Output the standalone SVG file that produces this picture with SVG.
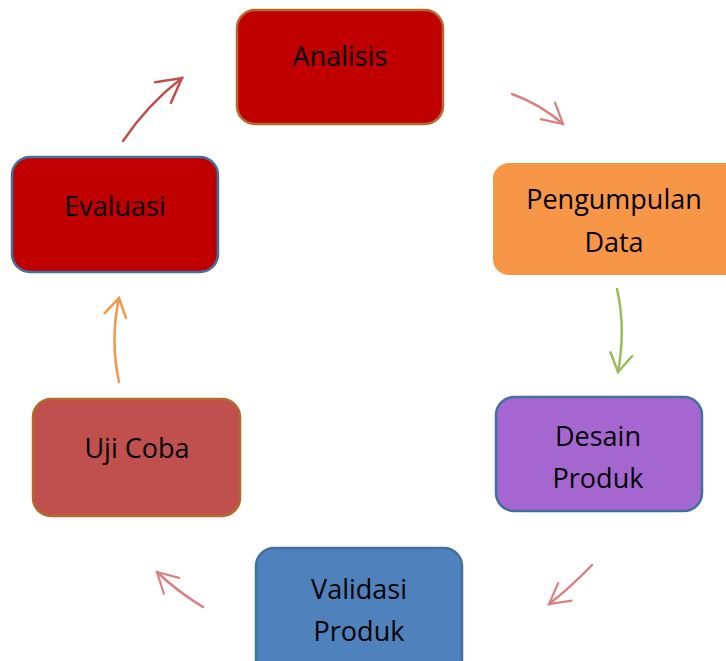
<svg xmlns="http://www.w3.org/2000/svg" width="726" height="661" viewBox="0 0 726 661">
<defs>
<style>
.box{stroke-width:2.5}
.lbl{font-family:"Open Sans","Noto Sans","Liberation Sans",sans-serif;font-size:27px;fill:#000;text-anchor:middle}
.arr{fill:none;stroke-width:2.5;stroke-linecap:round;stroke-linejoin:round}
</style>
<marker id="mRed" markerUnits="userSpaceOnUse" markerWidth="40" markerHeight="40" refX="0" refY="0" viewBox="-30 -20 40 40" orient="auto"><path d="M -24 -13 L 0 0 L -24 13" fill="none" stroke="#C0504D" stroke-width="2.5" stroke-linecap="round"/></marker>
<marker id="mPale" markerUnits="userSpaceOnUse" markerWidth="40" markerHeight="40" refX="0" refY="0" viewBox="-30 -20 40 40" orient="auto"><path d="M -20 -11 L 0 0 L -20 11" fill="none" stroke="#D46A6A" stroke-width="2.2" stroke-linecap="round"/></marker>
<marker id="mGreen" markerUnits="userSpaceOnUse" markerWidth="40" markerHeight="40" refX="0" refY="0" viewBox="-30 -20 40 40" orient="auto"><path d="M -18 -11 L 0 0 L -18 11" fill="none" stroke="#9BBB59" stroke-width="2.5" stroke-linecap="round"/></marker>
<marker id="mOrange" markerUnits="userSpaceOnUse" markerWidth="40" markerHeight="40" refX="0" refY="0" viewBox="-30 -20 40 40" orient="auto"><path d="M -18 -11 L 0 0 L -18 11" fill="none" stroke="#F79646" stroke-width="2.5" stroke-linecap="round"/></marker>
</defs>
<rect width="726" height="661" fill="#fff"/>
<g id="connectors">
<path class="arr" d="M 123 141 Q 148 104 182 78" stroke="#C0504D" marker-end="url(#mRed)"/>
<path class="arr" d="M 512 94 Q 540 104 563 124" stroke="#D46A6A" stroke-width="2.2" opacity="0.85" marker-end="url(#mPale)"/>
<path class="arr" d="M 617 289 Q 626 328 618 372" stroke="#9BBB59" marker-end="url(#mGreen)"/>
<path class="arr" d="M 592 565 Q 570 588 549 604" stroke="#D46A6A" stroke-width="2.2" opacity="0.85" marker-end="url(#mPale)"/>
<path class="arr" d="M 203 607 Q 178 592 157 572" stroke="#D46A6A" stroke-width="2.2" opacity="0.85" marker-end="url(#mPale)"/>
<path class="arr" d="M 119 382 Q 110 340 119 298" stroke="#F79646" marker-end="url(#mOrange)"/>
</g>
<g id="analisis">
<rect class="box" x="237" y="10" width="206" height="114" rx="18" fill="#C00000" stroke="#B5692F"/>
<text class="lbl" x="340" y="66">Analisis</text>
</g>
<g id="pengumpulan">
<rect x="493" y="163" width="250" height="112" rx="16" fill="#F79646"/>
<text class="lbl" x="614" y="209">Pengumpulan</text>
<text class="lbl" x="614" y="252">Data</text>
</g>
<g id="desain">
<rect class="box" x="496" y="397" width="206" height="114" rx="18" fill="#A566D0" stroke="#41719C"/>
<text class="lbl" x="598" y="446">Desain</text>
<text class="lbl" x="598" y="488">Produk</text>
</g>
<g id="validasi">
<rect class="box" x="256" y="548" width="206" height="130" rx="18" fill="#4F81BD" stroke="#41719C"/>
<text class="lbl" x="359" y="599">Validasi</text>
<text class="lbl" x="359" y="641">Produk</text>
</g>
<g id="ujicoba">
<rect class="box" x="33" y="399" width="207" height="117" rx="18" fill="#C0504D" stroke="#B5692F"/>
<text class="lbl" x="137" y="458">Uji Coba</text>
</g>
<g id="evaluasi">
<rect class="box" x="12" y="157" width="206" height="115" rx="18" fill="#C00000" stroke="#41719C"/>
<text class="lbl" x="115" y="216">Evaluasi</text>
</g>
</svg>
